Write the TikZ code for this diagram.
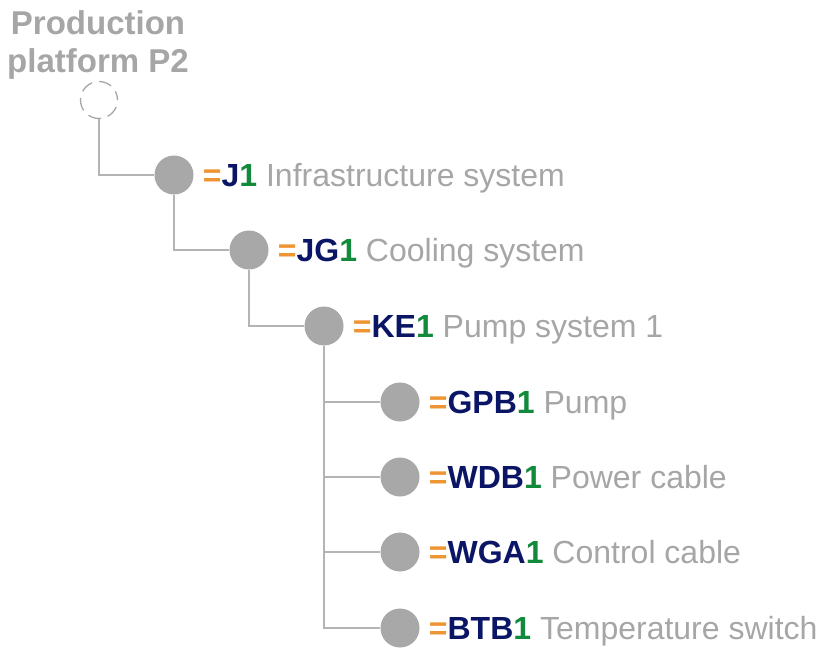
\documentclass[tikz,border=0pt]{standalone}
\usepackage{fontspec}
\setmainfont{Liberation Sans}
\usetikzlibrary{calc}
\definecolor{txtgray}{HTML}{A6A6A6}
\definecolor{linegray}{HTML}{B4B4B4}
\definecolor{dotgray}{HTML}{A8A8A8}
\definecolor{codeor}{HTML}{EE9433}
\definecolor{codenavy}{HTML}{0B1565}
\definecolor{codegreen}{HTML}{128A3C}
\newcommand{\code}[2]{\textbf{\textcolor{codeor}{=}\textcolor{codenavy}{#1}\textcolor{codegreen}{#2}}}
\begin{document}
\begin{tikzpicture}[x=1pt,y=-1pt,
  dot/.style={circle,fill=dotgray,draw=none,minimum size=39pt,inner sep=0},
  rootdot/.style={circle,draw=txtgray,dash pattern=on 13pt off 7pt,dash phase=4pt,line width=1.3pt,minimum size=37pt,inner sep=0},
  conn/.style={draw=linegray,line width=1.6pt},
  lbl/.style={anchor=base west,inner sep=0,text=txtgray,font=\fontsize{32}{36}\selectfont}]
\useasboundingbox (0,0) rectangle (826,648);
\node[align=center,text=txtgray,font=\fontsize{33}{38}\selectfont\bfseries,inner sep=0] (title) at (98,45) {Production\\platform P2};
\node[rootdot] (r) at (99,100) {};
\node[dot] (j) at (174,175) {};
\node[dot] (jg) at (249,250) {};
\node[dot] (ke) at (324,326) {};
\node[dot] (gpb) at (400,402) {};
\node[dot] (wdb) at (400,477) {};
\node[dot] (wga) at (400,552) {};
\node[dot] (btb) at (400,628) {};
\draw[conn] (r.south) |- (j.west);
\draw[conn] (j.south) |- (jg.west);
\draw[conn] (jg.south) |- (ke.west);
\draw[conn] (ke.south) |- (gpb.west);
\draw[conn] (ke.south) |- (wdb.west);
\draw[conn] (ke.south) |- (wga.west);
\draw[conn] (ke.south) |- (btb.west);
\node[lbl] (lj) at ($(j.east)+(9,11)$) {\code{J}{1} Infrastructure system};
\node[lbl] (ljg) at ($(jg.east)+(9,11)$) {\code{JG}{1} Cooling system};
\node[lbl] (lke) at ($(ke.east)+(9,11)$) {\code{KE}{1} Pump system 1};
\node[lbl] (lgpb) at ($(gpb.east)+(9,11)$) {\code{GPB}{1} Pump};
\node[lbl] (lwdb) at ($(wdb.east)+(9,11)$) {\code{WDB}{1} Power cable};
\node[lbl] (lwga) at ($(wga.east)+(9,11)$) {\code{WGA}{1} Control cable};
\node[lbl] (lbtb) at ($(btb.east)+(9,11)$) {\code{BTB}{1} Temperature switch};
\end{tikzpicture}
\end{document}
